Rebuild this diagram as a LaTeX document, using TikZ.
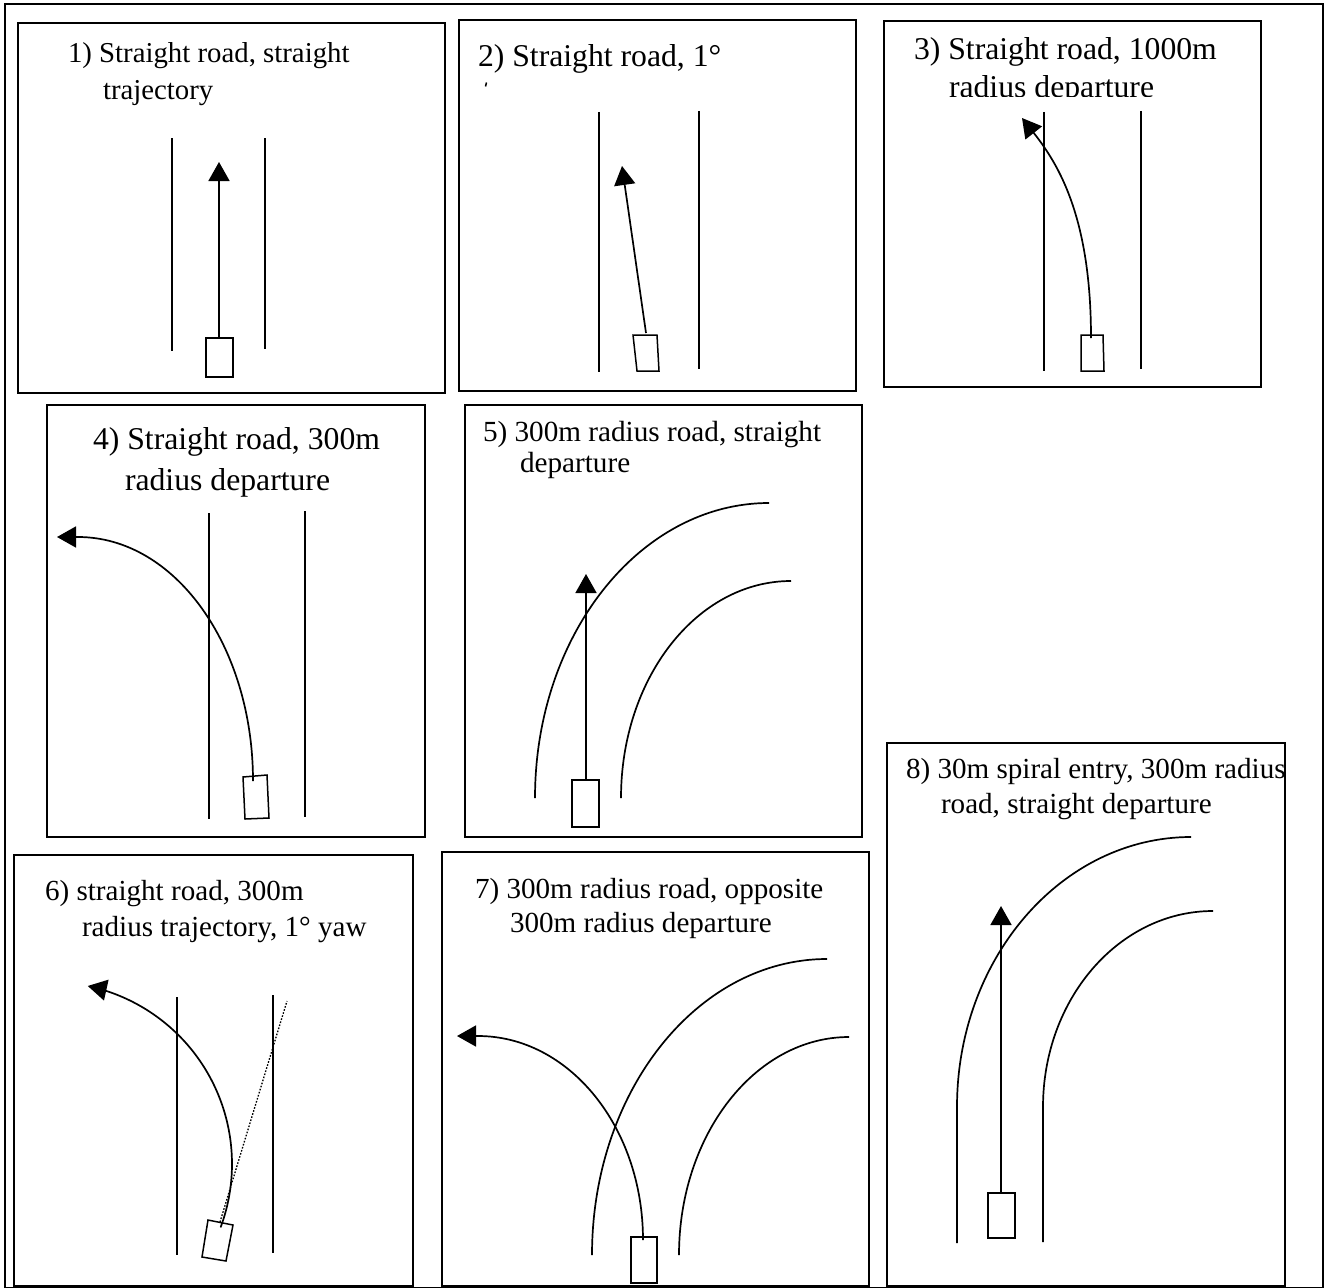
\documentclass[tikz,border=0pt]{standalone}
\usepackage{fontspec}
\setmainfont{Liberation Serif}
\usetikzlibrary{arrows.meta}
\tikzset{
  frame/.style={draw, line width=1.8pt},
  outerframe/.style={draw, line width=2.2pt},
  road/.style={line width=1.7pt},
  traj/.style={line width=1.7pt, -{Triangle[length=19pt,width=21pt]}},
  car/.style={draw, line width=1.5pt},
  yawline/.style={line width=1.3pt, dash pattern=on 1.6pt off 1.6pt},
  ttl/.style={anchor=base west, inner sep=0pt, outer sep=0pt},
}
\newcommand{\fsA}{\fontsize{28.8}{34}\selectfont}
\newcommand{\fsB}{\fontsize{31.7}{38}\selectfont}
\newcommand{\fsC}{\fontsize{29.1}{35}\selectfont}
\begin{document}
\begin{tikzpicture}[x=1pt,y=-1pt]
\useasboundingbox (0,0) rectangle (1327,1287);
\fill[white] (0,0) rectangle (1327,1287);
% outer frame
\draw[outerframe] (5,4) rectangle (1323,1288);

% ---------- Panel 1 ----------
\draw[frame] (18,23) rectangle (445,393);
\node[ttl] (t1a) at (68,63) {\fsA 1) Straight road, straight};
\node[ttl] (t1b) at (103,100) {\fsA trajectory};
\draw[road] (172,138) -- (172,351);
\draw[road] (265,138) -- (265,349);
\draw[car] (206,338) rectangle (233,377);
\draw[traj] (219,338) -- (219,162);

% ---------- Panel 2 ----------
\draw[frame] (459,20) rectangle (856,391);
\node[ttl] (t2a) at (478,67) {\fsB 2) Straight road, 1°};
\draw[line width=1.5pt] (486.5,82.5) -- (485.5,86.5);
\draw[road] (599,112) -- (599,372);
\draw[road] (699,111) -- (699,369);
\draw[car] (633,335) -- (657,335) -- (659,371) -- (637,371) -- cycle;
\draw[traj] (646,333) -- (622,166);

% ---------- Panel 3 ----------
\draw[frame] (884,21) rectangle (1261,387);
\node[ttl] (t3a) at (914,60) {\fsB 3) Straight road, 1000m};
\begin{scope}
  \clip (884,62) rectangle (1261,96.5);
  \node[ttl] (t3b) at (949,98) {\fsB radius departure};
\end{scope}
\draw[road] (1044,112) -- (1044,371);
\draw[road] (1141,111) -- (1141,369);
\draw[car] (1081,335) -- (1103,335) -- (1104,371) -- (1081,371) -- cycle;
\draw[traj] (1091,338) .. controls (1091,218) and (1059,165) .. (1022,118);

% ---------- Panel 4 ----------
\draw[frame] (47,405) rectangle (425,837);
\node[ttl] (t4a) at (93,449) {\fsB 4) Straight road, 300m};
\node[ttl] (t4b) at (125,490) {\fsB radius departure};
\draw[road] (209,513) -- (209,819);
\draw[road] (305,511) -- (305,817);
\draw[car] (243,777) -- (267,775) -- (269,818) -- (245,819) -- cycle;
\draw[traj] (253,781) .. controls (253,646) and (175,537) .. (78,537) -- (57,537);

% ---------- Panel 5 ----------
\draw[frame] (465,405) rectangle (862,837);
\node[ttl] (t5a) at (483,441) {\fontsize{29.2}{35}\selectfont 5) 300m radius road, straight};
\node[ttl] (t5b) at (520,472) {\fontsize{29.2}{35}\selectfont departure};
\draw[road] (535,798) .. controls (535,635) and (640,503) .. (769,503);
\draw[road] (621,798) .. controls (621,678) and (697,581) .. (791,581);
\draw[car] (572,780) rectangle (599,827);
\draw[traj] (586,780) -- (586,574);

% ---------- Panel 6 ----------
\draw[frame] (14,855) rectangle (413,1286);
\node[ttl] (t6a) at (45,900) {\fsC 6) straight road, 300m};
\node[ttl] (t6b) at (82,936) {\fsC radius trajectory, 1° yaw};
\draw[road] (177,997) -- (177,1255);
\draw[road] (273,995) -- (273,1253);
\draw[car] (208,1220) -- (233,1225) -- (226,1261) -- (202,1257) -- cycle;
\draw[yawline] (220,1222) -- (287,1001);
\draw[traj] plot[domain=0:1, samples=60, smooth] ({50+182*cos(20.4-98.5*\x)},{1164+182*sin(20.4-98.5*\x)});

% ---------- Panel 7 ----------
\draw[frame] (442,852) rectangle (869,1286);
\node[ttl] (t7a) at (475,898) {\fsC 7) 300m radius road, opposite};
\node[ttl] (t7b) at (510,932) {\fsC 300m radius departure};
\draw[road] (592,1255) .. controls (592,1092) and (697,959) .. (827,959);
\draw[road] (679,1255) .. controls (679,1135) and (755,1037) .. (849,1037);
\draw[car] (631,1237) rectangle (657,1283);
\draw[traj] (643,1240) .. controls (643,1127) and (569,1036) .. (478,1036) -- (457,1036);

% ---------- Panel 8 ----------
\draw[frame] (887,743) rectangle (1285,1286);
\node[ttl] (t8a) at (906,778) {\fsC 8) 30m spiral entry, 300m radius};
\node[ttl] (t8b) at (941,813) {\fsC road, straight departure};
\draw[road] (957,1243) -- (957,1107) .. controls (957,958) and (1062,837) .. (1191,837);
\draw[road] (1043,1242) -- (1043,1107) .. controls (1043,999) and (1119,911) .. (1213,911);
\draw[car] (988,1193) rectangle (1015,1238);
\draw[traj] (1001,1193) -- (1001,906);
\end{tikzpicture}
\end{document}
